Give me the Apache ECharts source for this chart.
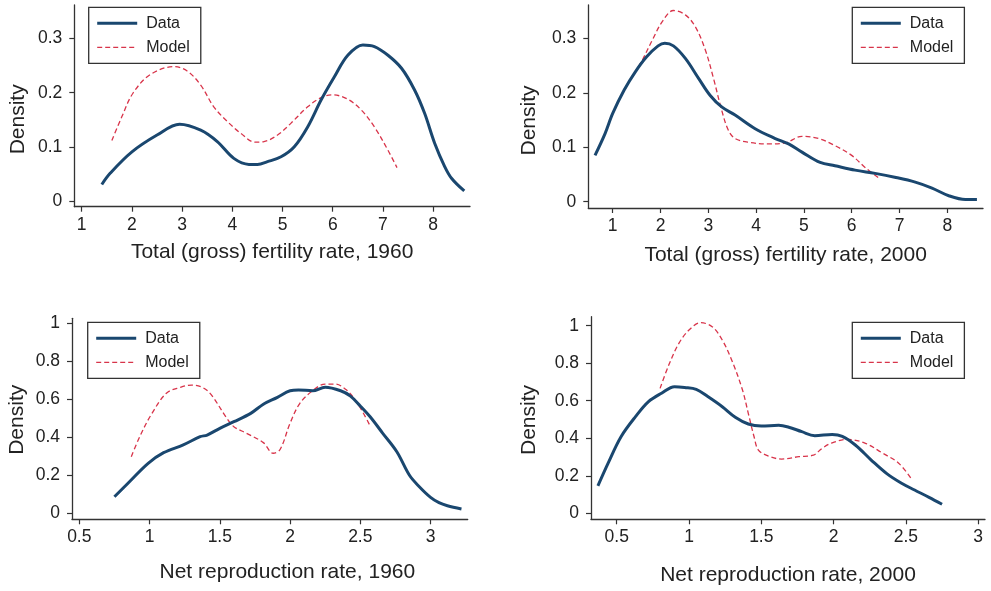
<!DOCTYPE html>
<html>
<head>
<meta charset="utf-8">
<script src="https://cdn.jsdelivr.net/npm/echarts@6/dist/echarts.min.js"></script>
<style>html,body{margin:0;padding:0;background:#fff}#c{width:991px;height:591px}</style>
</head>
<body>
<div id="c"></div>
<script>
// Panel 1: Total (gross) fertility rate, 1960
const tfr1960DataX = [1.40,1.57,2.00,2.50,2.95,3.37,3.70,4.03,4.33,4.50,4.70,4.97,5.23,5.50,5.77,6.03,6.30,6.60,6.83,7.10,7.37,7.63,7.83,8.03,8.23,8.37,8.62];
const tfr1960DataY = [0.031,0.052,0.091,0.122,0.142,0.131,0.110,0.079,0.068,0.068,0.073,0.082,0.100,0.137,0.187,0.229,0.269,0.288,0.285,0.269,0.245,0.205,0.162,0.107,0.064,0.042,0.019];
const tfr1960ModelX = [1.60,1.80,2.02,2.36,2.83,3.10,3.37,3.63,3.90,4.17,4.45,4.63,4.90,5.17,5.50,5.77,6.00,6.30,6.57,6.83,7.10,7.28];
const tfr1960ModelY = [0.112,0.156,0.199,0.233,0.248,0.240,0.214,0.174,0.147,0.125,0.109,0.110,0.122,0.144,0.174,0.191,0.196,0.188,0.168,0.137,0.094,0.062];
// Panel 2: Total (gross) fertility rate, 2000
const tfr2000DataX = [0.63,0.84,1.00,1.24,1.47,1.71,1.95,2.09,2.27,2.52,2.80,3.04,3.28,3.56,3.98,4.40,4.68,4.96,5.34,5.65,6.07,6.49,6.90,7.33,7.68,8.03,8.38,8.62];
const tfr2000DataY = [0.085,0.125,0.162,0.205,0.238,0.266,0.286,0.291,0.286,0.263,0.226,0.195,0.174,0.159,0.134,0.116,0.106,0.091,0.072,0.066,0.058,0.052,0.045,0.036,0.025,0.011,0.004,0.004];
const tfr2000ModelX = [1.45,1.62,1.83,2.04,2.27,2.52,2.73,2.94,3.11,3.28,3.42,3.56,3.84,4.26,4.61,4.96,5.31,5.65,6.00,6.28,6.59];
const tfr2000ModelY = [0.235,0.260,0.297,0.331,0.351,0.343,0.321,0.278,0.226,0.168,0.131,0.116,0.109,0.106,0.108,0.120,0.116,0.103,0.085,0.063,0.042];
// Panel 3: Net reproduction rate, 1960
const nrr1960DataX = [0.75,0.85,0.99,1.10,1.24,1.36,1.41,1.50,1.60,1.72,1.81,1.91,2.00,2.06,2.16,2.25,2.36,2.43,2.50,2.57,2.66,2.76,2.85,2.92,3.00,3.06,3.12,3.22];
const nrr1960DataY = [0.087,0.161,0.263,0.319,0.360,0.403,0.412,0.447,0.482,0.526,0.574,0.610,0.645,0.649,0.645,0.663,0.645,0.617,0.565,0.508,0.421,0.324,0.200,0.140,0.084,0.056,0.040,0.023];
const nrr1960ModelX = [0.87,0.93,1.01,1.12,1.22,1.30,1.38,1.44,1.55,1.60,1.69,1.81,1.88,1.93,2.00,2.07,2.16,2.25,2.32,2.40,2.48,2.57];
const nrr1960ModelY = [0.298,0.403,0.517,0.632,0.663,0.675,0.661,0.623,0.500,0.456,0.421,0.372,0.316,0.337,0.474,0.579,0.645,0.680,0.680,0.650,0.579,0.460];
// Panel 4: Net reproduction rate, 2000
const nrr2000DataX = [0.37,0.44,0.53,0.63,0.72,0.81,0.90,0.97,1.05,1.13,1.23,1.32,1.41,1.50,1.62,1.69,1.78,1.87,1.99,2.06,2.15,2.26,2.37,2.47,2.56,2.66,2.75];
const nrr2000DataY = [0.146,0.266,0.408,0.515,0.595,0.640,0.675,0.671,0.661,0.622,0.568,0.512,0.476,0.465,0.469,0.459,0.435,0.414,0.420,0.410,0.364,0.284,0.210,0.160,0.124,0.085,0.048];
const nrr2000ModelX = [0.80,0.86,0.93,1.00,1.08,1.16,1.23,1.30,1.37,1.41,1.45,1.48,1.55,1.64,1.76,1.86,1.92,1.99,2.10,2.22,2.33,2.45,2.54];
const nrr2000ModelY = [0.666,0.790,0.906,0.977,1.016,0.995,0.924,0.808,0.657,0.533,0.408,0.337,0.305,0.289,0.302,0.310,0.346,0.376,0.394,0.373,0.325,0.267,0.181];

const tfrTicksX = [1,2,3,4,5,6,7,8];
const tfrTicksY = [0,0.1,0.2,0.3];
const nrrTicksX = [0.5,1,1.5,2,2.5,3];
const nrrTicksY = [0,0.2,0.4,0.6,0.8,1];
const xTitles = ['Total (gross) fertility rate, 1960','Total (gross) fertility rate, 2000','Net reproduction rate, 1960','Net reproduction rate, 2000'];
const yTitle = 'Density';
const seriesNames = ['Data','Model'];

const FONT = "'Liberation Sans', Arial, Helvetica, sans-serif";
const AX = '#333';
const TXT = '#222';
const BLUE = '#1a476f';
const RED = '#d8344a';

function pairs(xs, ys){ return xs.map((x,i)=>[x, ys[i]]); }

const grids = [
  {left:74.3, top:5, width:395.7, height:201.7},
  {left:588.3, top:5, width:394.7, height:203},
  {left:72, top:318.3, width:395.7, height:201},
  {left:591, top:316.7, width:394, height:202.6}
];
const xRanges = [[0.852,8.734],[0.4895,8.747],[0.448,3.2644],[0.3223,3.047]];
const yRanges = [[-0.00994,0.3615],[-0.01157,0.3611],[-0.0316,1.0263],[-0.032,1.048]];
const xTickSets = [tfrTicksX, tfrTicksX, nrrTicksX, nrrTicksX];
const yTickSets = [tfrTicksY, tfrTicksY, nrrTicksY, nrrTicksY];
const xNameGaps = [35, 36.5, 42.5, 45];
const xNamePad = [[0,0,0,0],[0,0,0,0],[0,0,0,35],[0,0,0,0]];
const yNameGaps = [46, 49, 44, 51.5];
const yNamePad = [[0,27,0,0],[0,28,0,0],[0,2,0,0],[0,4,0,0]];

const xAxes = grids.map((g,i)=>({
  type:'value', gridIndex:i, min:xRanges[i][0], max:xRanges[i][1],
  axisLine:{show:true, onZero:false, lineStyle:{color:AX, width:1.3}},
  axisTick:{show:true, length:5, inside:false, lineStyle:{color:AX, width:1.2}, customValues:xTickSets[i]},
  axisLabel:{color:TXT, fontSize:17.5, fontFamily:FONT, margin:9, customValues:xTickSets[i]},
  splitLine:{show:false},
  name:xTitles[i], nameLocation:'middle', nameGap:xNameGaps[i],
  nameTextStyle:{color:TXT, fontSize:21, fontFamily:FONT, padding:xNamePad[i]}
}));
const yAxes = grids.map((g,i)=>({
  type:'value', gridIndex:i, min:yRanges[i][0], max:yRanges[i][1],
  axisLine:{show:true, onZero:false, lineStyle:{color:AX, width:1.3}},
  axisTick:{show:true, length:5, inside:false, lineStyle:{color:AX, width:1.2}, customValues:yTickSets[i]},
  axisLabel:{color:TXT, fontSize:17.5, fontFamily:FONT, margin:12, customValues:yTickSets[i]},
  splitLine:{show:false},
  name:yTitle, nameLocation:'middle', nameGap:yNameGaps[i], nameRotate:90,
  nameTextStyle:{color:TXT, fontSize:21, fontFamily:FONT, padding:yNamePad[i]}
}));

const dataSets = [
  [pairs(tfr1960DataX,tfr1960DataY), pairs(tfr1960ModelX,tfr1960ModelY)],
  [pairs(tfr2000DataX,tfr2000DataY), pairs(tfr2000ModelX,tfr2000ModelY)],
  [pairs(nrr1960DataX,nrr1960DataY), pairs(nrr1960ModelX,nrr1960ModelY)],
  [pairs(nrr2000DataX,nrr2000DataY), pairs(nrr2000ModelX,nrr2000ModelY)]
];
const series = [];
dataSets.forEach((ds,i)=>{
  series.push({type:'line', name:seriesNames[0], xAxisIndex:i, yAxisIndex:i, data:ds[0],
    symbol:'none', showSymbol:false, smooth:0.35, z:3,
    lineStyle:{color:BLUE, width:3}, itemStyle:{color:BLUE}});
  series.push({type:'line', name:seriesNames[1], xAxisIndex:i, yAxisIndex:i, data:ds[1],
    symbol:'none', showSymbol:false, smooth:0.35, z:2,
    lineStyle:{color:RED, width:1.3, type:[5,3]}, itemStyle:{color:RED}});
});

const legendPos = [[88.7,7.3],[852.3,7.3],[87.7,322.3],[852.3,322.3]];
const legends = legendPos.map(p=>({
  data:[
    {name:seriesNames[0], itemStyle:{opacity:0}, lineStyle:{color:BLUE, width:3, type:'solid'}},
    {name:seriesNames[1], itemStyle:{opacity:0}, lineStyle:{color:RED, width:1.3, type:[5,3]}}
  ],
  left:p[0], top:p[1], orient:'vertical',
  itemWidth:40, itemHeight:14, itemGap:8,
  padding:[8,11,8,7], borderColor:AX, borderWidth:1.3, borderRadius:0,
  backgroundColor:'#fff', selectedMode:false,
  itemStyle:{opacity:0},
  textStyle:{color:TXT, fontSize:16, fontFamily:FONT, padding:[0,0,0,4]}
}));

const chart = echarts.init(document.getElementById('c'), null, {renderer:'canvas'});
chart.setOption({
  animation:false,
  backgroundColor:'#fff',
  grid:grids,
  xAxis:xAxes,
  yAxis:yAxes,
  legend:legends,
  series:series
});
</script>
</body>
</html>
